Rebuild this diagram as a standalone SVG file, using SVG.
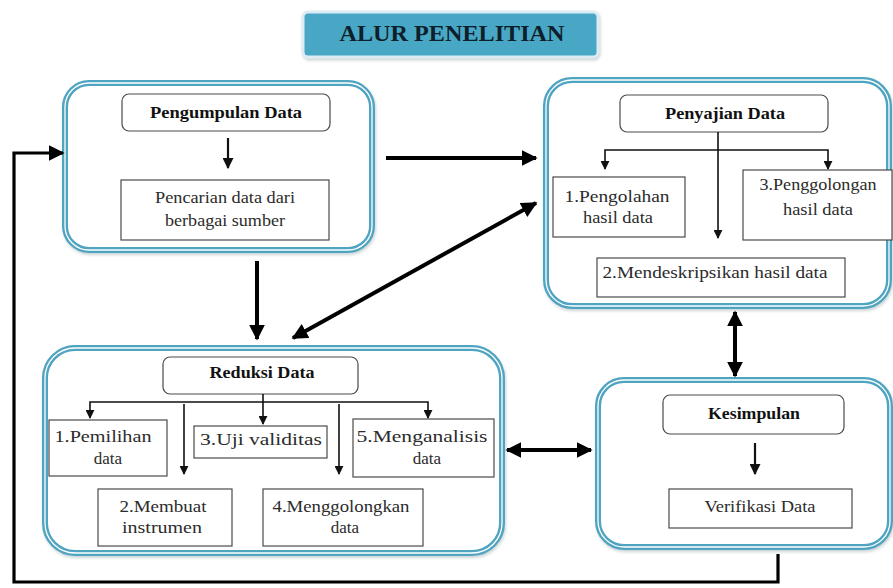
<svg xmlns="http://www.w3.org/2000/svg" width="893" height="588" viewBox="0 0 893 588" font-family="'Liberation Serif', 'DejaVu Serif', serif">
<style>
text{font-family:'Liberation Serif','DejaVu Serif',serif}
.panel{fill:#ffffff;stroke:#4fa4c1;stroke-width:6}
.panelin{fill:none;stroke:#ffffff;stroke-width:1.3}
.box{fill:#ffffff;stroke:#4a4a4a;stroke-width:1.2}
.hd{font-weight:bold;font-size:16px;fill:#111;text-anchor:middle}
.tx{font-size:17px;fill:#2b2b2b;text-anchor:middle}
.thin{fill:none;stroke:#111;stroke-width:1.6}
.mid{fill:none;stroke:#111;stroke-width:2.2}
.thick{fill:none;stroke:#000;stroke-width:4}
</style>
<defs>
<marker id="sm" viewBox="0 0 10 10" refX="9" refY="5" markerUnits="userSpaceOnUse" markerWidth="9" markerHeight="9" orient="auto-start-reverse"><path d="M0,0 L10,5 L0,10 z" fill="#111"/></marker>
<marker id="md" viewBox="0 0 10 10" refX="9" refY="5" markerUnits="userSpaceOnUse" markerWidth="11" markerHeight="11" orient="auto-start-reverse"><path d="M0,0 L10,5 L0,10 z" fill="#111"/></marker>
<marker id="lg" viewBox="0 0 10 10" refX="9" refY="5" markerUnits="userSpaceOnUse" markerWidth="16" markerHeight="16" orient="auto-start-reverse"><path d="M0,0 L10,5 L0,10 z" fill="#000"/></marker>
<filter id="sh" x="-10%" y="-20%" width="120%" height="150%"><feDropShadow dx="1" dy="2" stdDeviation="1.5" flood-color="#9aa" flood-opacity="0.5"/></filter>
</defs>

<g id="title">
<rect x="303" y="12" width="295" height="45" rx="5" fill="#4aa7c6" stroke="#dcecf2" stroke-width="3" filter="url(#sh)"/>
<text x="452" y="41" font-weight="bold" font-size="23" fill="#0e1f2c" text-anchor="middle" textLength="225" lengthAdjust="spacingAndGlyphs">ALUR PENELITIAN</text>
</g>

<g id="pengumpulan">
<rect class="panel" x="65" y="83" width="307" height="167" rx="24" filter="url(#sh)"/>
<rect class="panelin" x="65" y="83" width="307" height="167" rx="24"/>
<rect class="box" x="122" y="94" width="208" height="37" rx="7"/>
<text class="hd" x="226" y="118" textLength="152" lengthAdjust="spacingAndGlyphs">Pengumpulan Data</text>
<line class="mid" x1="228" y1="138" x2="228" y2="168" marker-end="url(#md)"/>
<rect class="box" x="121" y="180" width="208" height="60"/>
<text class="tx" x="225" y="203" textLength="140" lengthAdjust="spacingAndGlyphs">Pencarian data dari</text>
<text class="tx" x="225" y="226" textLength="120" lengthAdjust="spacingAndGlyphs">berbagai sumber</text>
</g>

<g id="penyajian">
<rect class="panel" x="546" y="80" width="343" height="226" rx="26" filter="url(#sh)"/>
<rect class="panelin" x="546" y="80" width="343" height="226" rx="26"/>
<rect class="box" x="620" y="95" width="208" height="37" rx="7"/>
<text class="hd" x="725" y="119" textLength="120" lengthAdjust="spacingAndGlyphs">Penyajian Data</text>
<line class="thin" x1="718" y1="132" x2="718" y2="238" marker-end="url(#sm)"/>
<polyline class="thin" points="605,169 605,150 828,150 828,169" marker-start="url(#sm)" marker-end="url(#sm)"/>
<rect class="box" x="553" y="177" width="132" height="60"/>
<text class="tx" x="617" y="202" textLength="105" lengthAdjust="spacingAndGlyphs">1.Pengolahan</text>
<text class="tx" x="618" y="223" textLength="70" lengthAdjust="spacingAndGlyphs">hasil data</text>
<rect class="box" x="743" y="170" width="149" height="70"/>
<text class="tx" x="818" y="190" textLength="117" lengthAdjust="spacingAndGlyphs">3.Penggolongan</text>
<text class="tx" x="818" y="215" textLength="70" lengthAdjust="spacingAndGlyphs">hasil data</text>
<rect class="box" x="597" y="258" width="248" height="39"/>
<text class="tx" x="715" y="278" textLength="225" lengthAdjust="spacingAndGlyphs">2.Mendeskripsikan hasil data</text>
</g>

<g id="reduksi">
<rect class="panel" x="45" y="348" width="457" height="205" rx="30" filter="url(#sh)"/>
<rect class="panelin" x="45" y="348" width="457" height="205" rx="30"/>
<rect class="box" x="163" y="357" width="195" height="37" rx="7"/>
<text class="hd" x="262" y="378" textLength="105" lengthAdjust="spacingAndGlyphs">Reduksi Data</text>
<line class="thin" x1="263" y1="394" x2="263" y2="424" marker-end="url(#sm)"/>
<polyline class="thin" points="90,418 90,402 428,402 428,418" marker-start="url(#sm)" marker-end="url(#sm)"/>
<line class="thin" x1="184" y1="404" x2="184" y2="474" marker-end="url(#sm)"/>
<line class="thin" x1="339" y1="404" x2="339" y2="474" marker-end="url(#sm)"/>
<rect class="box" x="49" y="420" width="118" height="56"/>
<text class="tx" x="103" y="442" textLength="97" lengthAdjust="spacingAndGlyphs">1.Pemilihan</text>
<text class="tx" x="108" y="464">data</text>
<rect class="box" x="194" y="426" width="133" height="32"/>
<text class="tx" x="261" y="445" textLength="122" lengthAdjust="spacingAndGlyphs">3.Uji validitas</text>
<rect class="box" x="353" y="419" width="141" height="58"/>
<text class="tx" x="422" y="442" textLength="131" lengthAdjust="spacingAndGlyphs">5.Menganalisis</text>
<text class="tx" x="427" y="464">data</text>
<rect class="box" x="98" y="489" width="134" height="57"/>
<text class="tx" x="163" y="512" textLength="87" lengthAdjust="spacingAndGlyphs">2.Membuat</text>
<text class="tx" x="162" y="533" textLength="80" lengthAdjust="spacingAndGlyphs">instrumen</text>
<rect class="box" x="263" y="489" width="160" height="57"/>
<text class="tx" x="341" y="512" textLength="137" lengthAdjust="spacingAndGlyphs">4.Menggolongkan</text>
<text class="tx" x="345" y="533">data</text>
</g>

<g id="kesimpulan">
<rect class="panel" x="598" y="380" width="292" height="167" rx="26" filter="url(#sh)"/>
<rect class="panelin" x="598" y="380" width="292" height="167" rx="26"/>
<rect class="box" x="663" y="395" width="181" height="39" rx="7"/>
<text class="hd" x="754" y="419" textLength="92" lengthAdjust="spacingAndGlyphs">Kesimpulan</text>
<line class="mid" x1="755" y1="443" x2="755" y2="474" marker-end="url(#md)"/>
<rect class="box" x="669" y="489" width="183" height="39"/>
<text class="tx" x="760" y="512" textLength="111" lengthAdjust="spacingAndGlyphs">Verifikasi Data</text>
</g>

<g id="connectors">
<line class="thick" x1="386" y1="158" x2="536" y2="158" marker-end="url(#lg)"/>
<line class="thick" x1="257" y1="261" x2="257" y2="339" marker-end="url(#lg)"/>
<line class="thick" x1="293" y1="338" x2="536" y2="203" marker-start="url(#lg)" marker-end="url(#lg)"/>
<line class="thick" x1="735" y1="312" x2="735" y2="376" marker-start="url(#lg)" marker-end="url(#lg)"/>
<line class="thick" x1="507" y1="450" x2="591" y2="450" marker-start="url(#lg)" marker-end="url(#lg)"/>
<polyline fill="none" stroke="#000" stroke-width="3.2" points="778,554 778,582 14,582 14,153 63,153" marker-end="url(#lg)"/>
</g>
</svg>
